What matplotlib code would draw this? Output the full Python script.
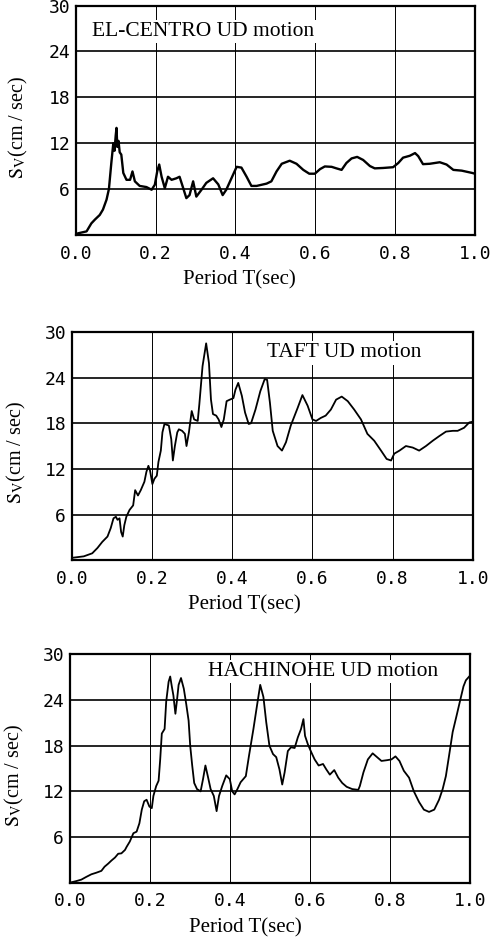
import matplotlib
matplotlib.use("Agg")
import matplotlib.pyplot as plt

# velocity response spectra
elcentro_T = [0.000, 0.006, 0.027, 0.039, 0.048, 0.060, 0.068, 0.077, 0.083, 0.089,
              0.094, 0.097, 0.100, 0.102, 0.104, 0.107, 0.110, 0.114, 0.119, 0.127,
              0.136, 0.142, 0.148, 0.160, 0.177, 0.190, 0.198, 0.204, 0.209, 0.215,
              0.223, 0.231, 0.240, 0.252, 0.260, 0.268, 0.277, 0.285, 0.294, 0.302,
              0.315, 0.327, 0.344, 0.357, 0.368, 0.377, 0.390, 0.403, 0.415, 0.428,
              0.440, 0.453, 0.478, 0.490, 0.503, 0.516, 0.536, 0.553, 0.570, 0.585,
              0.599, 0.612, 0.624, 0.641, 0.653, 0.666, 0.678, 0.691, 0.705, 0.720,
              0.737, 0.749, 0.770, 0.795, 0.808, 0.820, 0.837, 0.850, 0.858, 0.870,
              0.887, 0.912, 0.929, 0.946, 0.967, 0.993, 1.000]
elcentro_sv = [0.1, 0.2, 0.45, 1.5, 2.0, 2.6, 3.3, 4.6, 6.0, 9.4,
               12.0, 11.0, 13.0, 14.0, 11.5, 12.3, 10.8, 10.5, 8.1, 7.2,
               7.2, 8.3, 7.0, 6.4, 6.25, 5.9, 6.55, 8.3, 9.2, 7.6,
               6.1, 7.6, 7.2, 7.4, 7.6, 6.3, 4.8, 5.2, 7.0, 5.0,
               5.9, 6.8, 7.4, 6.6, 5.2, 5.9, 7.4, 8.9, 8.8, 7.6,
               6.4, 6.4, 6.7, 7.0, 8.3, 9.3, 9.7, 9.3, 8.5, 8.0,
               8.0, 8.6, 8.95, 8.9, 8.7, 8.5, 9.4, 10.0, 10.2, 9.8,
               9.0, 8.7, 8.75, 8.85, 9.4, 10.1, 10.35, 10.7, 10.3, 9.25,
               9.3, 9.5, 9.2, 8.5, 8.4, 8.1, 8.0]

taft_T = [0.000, 0.030, 0.051, 0.064, 0.076, 0.089, 0.097, 0.104, 0.110, 0.114,
          0.119, 0.123, 0.127, 0.131, 0.136, 0.144, 0.153, 0.158, 0.165, 0.172,
          0.181, 0.186, 0.191, 0.195, 0.201, 0.206, 0.212, 0.216, 0.222, 0.226,
          0.231, 0.242, 0.248, 0.252, 0.257, 0.263, 0.267, 0.275, 0.282, 0.286,
          0.292, 0.299, 0.305, 0.314, 0.318, 0.326, 0.335, 0.342, 0.347, 0.352,
          0.360, 0.366, 0.373, 0.379, 0.386, 0.394, 0.403, 0.408, 0.415, 0.424,
          0.432, 0.441, 0.447, 0.458, 0.470, 0.481, 0.487, 0.494, 0.501, 0.513,
          0.524, 0.534, 0.546, 0.563, 0.575, 0.588, 0.600, 0.609, 0.621, 0.633,
          0.646, 0.659, 0.673, 0.688, 0.704, 0.721, 0.737, 0.754, 0.771, 0.785,
          0.796, 0.804, 0.817, 0.833, 0.850, 0.866, 0.883, 0.900, 0.916, 0.933,
          0.950, 0.962, 0.978, 0.991, 1.000]
taft_sv = [0.3, 0.5, 0.9, 1.6, 2.4, 3.1, 4.2, 5.5, 5.7, 5.3,
           5.5, 3.7, 3.1, 4.6, 5.7, 6.6, 7.2, 9.2, 8.5, 9.2,
           10.3, 11.6, 12.4, 11.8, 10.0, 10.7, 11.1, 12.9, 14.4, 16.8,
           17.9, 17.7, 15.9, 13.1, 15.0, 16.8, 17.2, 17.0, 16.6, 15.0,
           16.8, 19.6, 18.5, 18.3, 20.5, 25.5, 28.5, 25.9, 21.1, 19.2,
           19.0, 18.5, 17.5, 18.5, 20.9, 21.1, 21.3, 22.4, 23.3, 21.6,
           19.4, 17.9, 18.0, 19.8, 22.2, 23.8, 23.7, 20.7, 17.0, 15.0,
           14.4, 15.5, 17.7, 20.0, 21.7, 20.3, 18.5, 18.3, 18.7, 19.0,
           19.8, 21.1, 21.5, 20.9, 19.8, 18.5, 16.6, 15.7, 14.4, 13.3,
           13.1, 14.0, 14.4, 15.0, 14.8, 14.4, 15.0, 15.7, 16.3, 16.9,
           17.0, 17.0, 17.4, 18.1, 18.2]

hachinohe_T = [0.000, 0.016, 0.029, 0.041, 0.054, 0.066, 0.079, 0.087, 0.096, 0.104,
               0.113, 0.121, 0.129, 0.138, 0.142, 0.150, 0.159, 0.167, 0.174, 0.180,
               0.186, 0.192, 0.199, 0.205, 0.209, 0.216, 0.222, 0.226, 0.230, 0.237,
               0.241, 0.247, 0.251, 0.255, 0.259, 0.264, 0.268, 0.272, 0.278, 0.285,
               0.291, 0.297, 0.301, 0.306, 0.311, 0.318, 0.327, 0.333, 0.339, 0.345,
               0.352, 0.360, 0.367, 0.373, 0.381, 0.391, 0.400, 0.406, 0.412, 0.419,
               0.427, 0.440, 0.448, 0.459, 0.468, 0.476, 0.484, 0.491, 0.499, 0.508,
               0.516, 0.524, 0.531, 0.537, 0.545, 0.553, 0.562, 0.570, 0.578, 0.584,
               0.588, 0.595, 0.604, 0.612, 0.622, 0.633, 0.641, 0.650, 0.661, 0.671,
               0.681, 0.692, 0.706, 0.721, 0.725, 0.734, 0.745, 0.757, 0.768, 0.779,
               0.793, 0.804, 0.814, 0.824, 0.835, 0.848, 0.860, 0.873, 0.885, 0.898,
               0.911, 0.923, 0.932, 0.940, 0.948, 0.957, 0.967, 0.975, 0.984, 0.990,
               1.000]
hachinohe_sv = [0.0, 0.2, 0.4, 0.75, 1.1, 1.3, 1.55, 2.1, 2.5, 2.9,
                3.3, 3.8, 3.85, 4.3, 4.7, 5.4, 6.5, 6.7, 7.8, 9.6,
                10.7, 10.9, 10.0, 9.8, 11.4, 12.7, 13.4, 16.2, 19.6, 20.2,
                23.8, 26.4, 27.1, 25.8, 24.6, 22.2, 24.0, 26.0, 26.9, 25.5,
                23.5, 21.3, 18.0, 15.4, 13.1, 12.3, 12.0, 13.6, 15.4, 14.0,
                12.3, 11.4, 9.4, 11.4, 12.7, 14.1, 13.6, 12.0, 11.6, 12.3,
                13.2, 14.0, 16.7, 20.2, 23.3, 26.0, 24.4, 21.1, 18.0, 16.9,
                16.5, 14.9, 12.9, 14.5, 17.3, 17.8, 17.7, 19.1, 20.2, 21.5,
                19.3, 18.2, 17.1, 16.2, 15.4, 15.6, 14.9, 14.2, 14.8, 13.8,
                13.1, 12.6, 12.3, 12.2, 12.7, 14.5, 16.2, 17.0, 16.5, 16.0,
                16.1, 16.2, 16.6, 16.0, 14.7, 13.8, 12.0, 10.6, 9.6, 9.3,
                9.6, 10.9, 12.3, 14.0, 16.7, 19.8, 22.0, 23.8, 25.8, 26.6,
                27.2]

titles = ["EL-CENTRO UD motion", "TAFT UD motion", "HACHINOHE UD motion"]
x_ticks = [0.0, 0.2, 0.4, 0.6, 0.8, 1.0]
x_labels = ["0.0", "0.2", "0.4", "0.6", "0.8", "1.0"]
y_ticks = [6, 12, 18, 24, 30]
y_labels = ["6", "12", "18", "24", "30"]

plt.rcParams['font.family'] = ['Liberation Serif', 'DejaVu Serif']
plt.rcParams['mathtext.fontset'] = 'stix'

fig = plt.figure(figsize=(5.02, 9.43), dpi=100)

# axes boxes, title spot, curve width, xlabel x, ylabel x
layout = [
    ([0.151, 0.751, 0.795, 0.243], (0.04, 0.886), 1.7, 0.41, -0.115),
    ([0.143, 0.406, 0.799, 0.242], (0.486, 0.908), 1.3, 0.43, -0.11),
    ([0.139, 0.064, 0.797, 0.242], (0.345, 0.925), 1.3, 0.44, -0.11),
]
series = [(elcentro_T, elcentro_sv), (taft_T, taft_sv), (hachinohe_T, hachinohe_sv)]

for (rect, tpos, lw, xl, yl), (T, sv), title in zip(layout, series, titles):
    ax = fig.add_axes(rect)
    ax.plot(T, sv, color='black', lw=lw, zorder=3)
    ax.set_xlim(0, 1)
    ax.set_ylim(0, 30)
    ax.set_xticks(x_ticks)
    ax.set_xticklabels(x_labels, fontfamily='DejaVu Sans Mono', fontsize=13)
    ax.set_yticks(y_ticks)
    ax.set_yticklabels(y_labels, fontfamily='DejaVu Sans Mono', fontsize=13)
    ax.tick_params(axis='both', length=0)
    ax.tick_params(axis='x', pad=7)
    ax.tick_params(axis='y', pad=4)
    ax.set_axisbelow(True)
    ax.yaxis.grid(True, color='black', lw=1.2)
    ax.xaxis.grid(True, color='black', lw=0.7)
    for s in ax.spines.values():
        s.set_linewidth(1.6)
    ax.text(tpos[0], tpos[1], title, transform=ax.transAxes, fontsize=15.5,
            ha='left', va='center', zorder=4,
            bbox=dict(facecolor='white', edgecolor='none', pad=1.5))
    ax.set_xlabel("Period T(sec)", fontsize=15)
    ax.xaxis.set_label_coords(xl, -0.155, transform=ax.transAxes)
    ax.xaxis.label.set_va('top')
    ax.set_ylabel(r"$\mathrm{S_V}$(cm / sec)", fontsize=14.5)
    ax.yaxis.set_label_coords(yl, 0.47)

fig.savefig("out.png", dpi=100)
